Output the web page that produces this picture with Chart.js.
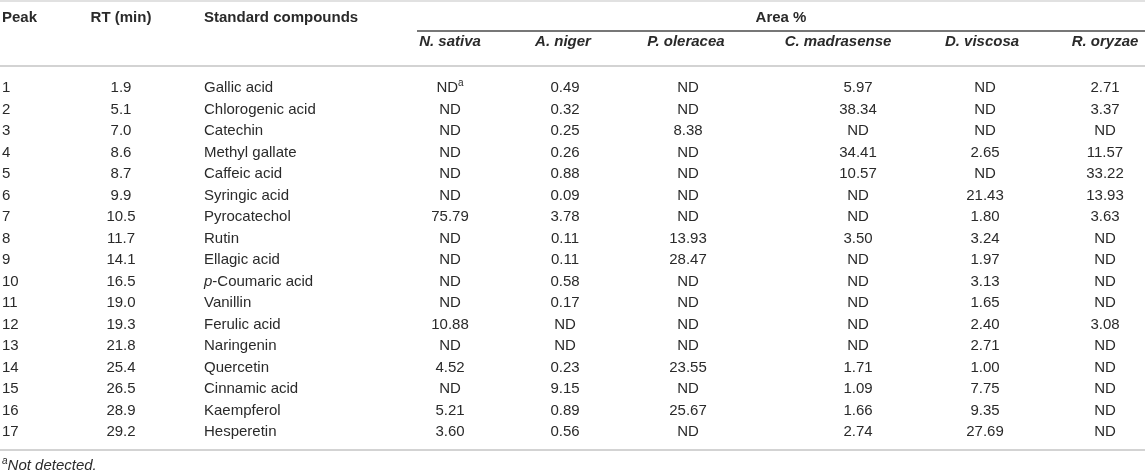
<!DOCTYPE html>
<html>
<head>
<meta charset="utf-8">
<script src="https://cdn.jsdelivr.net/npm/chart.js@4"></script>
<style>
  html, body { margin: 0; padding: 0; background: #fff; }
  #wrap { width: 1145px; height: 474px; }
</style>
</head>
<body>
<div id="wrap"><canvas id="table"></canvas></div>
<script>
// Table content
const peaks = ['1', '2', '3', '4', '5', '6', '7', '8', '9', '10', '11', '12', '13', '14', '15', '16', '17'];
const retentionTimes = [1.9, 5.1, 7.0, 8.6, 8.7, 9.9, 10.5, 11.7, 14.1, 16.5, 19.0, 19.3, 21.8, 25.4, 26.5, 28.9, 29.2];
const compounds = ['Gallic acid', 'Chlorogenic acid', 'Catechin', 'Methyl gallate', 'Caffeic acid', 'Syringic acid',
    'Pyrocatechol', 'Rutin', 'Ellagic acid', 'p-Coumaric acid', 'Vanillin', 'Ferulic acid', 'Naringenin',
    'Quercetin', 'Cinnamic acid', 'Kaempferol', 'Hesperetin'];
const species = ['N. sativa', 'A. niger', 'P. oleracea', 'C. madrasense', 'D. viscosa', 'R. oryzae'];

// Area % per species, null = not detected
const nSativa = [null, null, null, null, null, null, 75.79, null, null, null, null, 10.88, null, 4.52, null, 5.21, 3.60];
const aNiger = [0.49, 0.32, 0.25, 0.26, 0.88, 0.09, 3.78, 0.11, 0.11, 0.58, 0.17, null, null, 0.23, 9.15, 0.89, 0.56];
const pOleracea = [null, null, 8.38, null, null, null, null, 13.93, 28.47, null, null, null, null, 23.55, null, 25.67, null];
const cMadrasense = [5.97, 38.34, null, 34.41, 10.57, null, null, 3.50, null, null, null, null, null, 1.71, 1.09, 1.66, 2.74];
const dViscosa = [null, null, null, 2.65, null, 21.43, 1.80, 3.24, 1.97, 3.13, 1.65, 2.40, 2.71, 1.00, 7.75, 9.35, 27.69];
const rOryzae = [2.71, 3.37, null, 11.57, 33.22, 13.93, 3.63, null, null, null, null, 3.08, null, null, null, null, null];
const areaSeries = [nSativa, aNiger, pOleracea, cMadrasense, dViscosa, rOryzae];

const columnTitles = ['Peak', 'RT (min)', 'Standard compounds'];
const groupTitle = 'Area %';
const footnote = 'Not detected.';
const footnoteCells = [[0, 0]]; // [species index, row index] carrying the "a" mark

// Layout (page units)
const W = 1145, H = 474;
const FONT = "'Liberation Sans', Arial, Helvetica, sans-serif";
const TEXT = '#2a2a2a';
const peakX = 2, rtX = 121, compoundX = 204;
const valueX = [450, 565, 688, 858, 985, 1105];
const speciesX = [450, 563, 686, 838, 982, 1105];
const groupLeft = 417;
const headY = 18, speciesY = 42;
const firstRowY = 88, rowStep = 21.5;
const rules = { top: 1, group: 31, head: 66, bottom: 450 };
const footY = 466;

const rowY = i => firstRowY + i * rowStep;

function fmtArea(v) {
    return v === null ? 'ND' : v.toFixed(2);
}

function cellPoints(xPos) {
    return peaks.map((p, i) => ({ x: xPos, y: rowY(i) }));
}

// one scatter dataset per column; the points hold the cell anchors
const datasets = [
    { label: 'Peak', data: cellPoints(peakX), cellText: peaks, align: 'left' },
    { label: 'RT', data: cellPoints(rtX), cellText: retentionTimes.map(v => v.toFixed(1)), align: 'center' },
    { label: 'Compound', data: cellPoints(compoundX), cellText: compounds, align: 'left' }
];
areaSeries.forEach((series, s) => {
    datasets.push({
        label: species[s],
        data: cellPoints(valueX[s]),
        cellText: series.map(fmtArea),
        align: 'center',
        marks: footnoteCells.filter(c => c[0] === s).map(c => c[1])
    });
});
datasets.forEach(ds => { ds.pointRadius = 0; ds.showLine = false; });

function font(size, bold, italic) {
    return `${italic ? 'italic ' : ''}${bold ? 'bold ' : ''}${size}px ${FONT}`;
}

// draws text made of segments {t, italic, bold, sup}
function drawRich(ctx, segs, x, y, align) {
    const size = 15;
    let total = 0;
    segs.forEach(s => {
        ctx.font = font(s.sup ? 10 : size, s.bold, s.italic);
        s.w = ctx.measureText(s.t).width;
        total += s.w;
    });
    let cx = align === 'center' ? x - total / 2 : x;
    ctx.textAlign = 'left';
    ctx.textBaseline = 'middle';
    segs.forEach(s => {
        ctx.font = font(s.sup ? 10 : size, s.bold, s.italic);
        ctx.fillText(s.t, cx, s.sup ? y - 5 : y);
        cx += s.w;
    });
}

function segsFor(text) {
    if (text.startsWith('p-')) return [{ t: 'p', italic: true }, { t: text.slice(1) }];
    return [{ t: text }];
}

function hline(ctx, x1, x2, y, color, width) {
    ctx.strokeStyle = color;
    ctx.lineWidth = width;
    ctx.beginPath();
    ctx.moveTo(x1, y);
    ctx.lineTo(x2, y);
    ctx.stroke();
}

const tablePlugin = {
    id: 'tableText',
    afterDatasetsDraw(chart) {
        const ctx = chart.ctx;
        const xs = chart.scales.x, ys = chart.scales.y;
        const px = v => xs.getPixelForValue(v);
        const py = v => ys.getPixelForValue(v);
        ctx.save();

        // rules
        hline(ctx, px(0), px(W), py(rules.top), '#c4c4c4', 1.2);
        hline(ctx, px(groupLeft), px(W), py(rules.group), '#4a4a4a', 1.4);
        hline(ctx, px(0), px(W), py(rules.head), '#c4c4c4', 1.4);
        hline(ctx, px(0), px(W), py(rules.bottom), '#c4c4c4', 1.4);

        ctx.fillStyle = TEXT;
        // column headers
        drawRich(ctx, [{ t: columnTitles[0], bold: true }], px(peakX), py(headY), 'left');
        drawRich(ctx, [{ t: columnTitles[1], bold: true }], px(rtX), py(headY), 'center');
        drawRich(ctx, [{ t: columnTitles[2], bold: true }], px(compoundX), py(headY), 'left');
        drawRich(ctx, [{ t: groupTitle, bold: true }], (px(groupLeft) + px(W)) / 2, py(headY), 'center');
        species.forEach((sp, s) => {
            drawRich(ctx, [{ t: sp, bold: true, italic: true }], px(speciesX[s]), py(speciesY), 'center');
        });

        // body cells at the dataset point positions
        chart.data.datasets.forEach((ds, di) => {
            const meta = chart.getDatasetMeta(di);
            meta.data.forEach((pt, i) => {
                const segs = segsFor(ds.cellText[i]);
                if (ds.marks && ds.marks.includes(i)) segs.push({ t: 'a', sup: true });
                drawRich(ctx, segs, pt.x, pt.y, ds.align);
            });
        });

        // footnote
        drawRich(ctx, [{ t: 'a', sup: true, italic: true }, { t: footnote, italic: true }], px(peakX), py(footY), 'left');
        ctx.restore();
    }
};

new Chart(document.getElementById('table'), {
    type: 'scatter',
    data: { datasets: datasets },
    options: {
        responsive: true,
        maintainAspectRatio: false,
        animation: false,
        events: [],
        layout: { padding: 0 },
        plugins: { legend: { display: false }, tooltip: { enabled: false } },
        scales: {
            x: { type: 'linear', min: 0, max: W, display: false },
            y: { type: 'linear', min: 0, max: H, reverse: true, display: false }
        }
    },
    plugins: [tablePlugin]
});
</script>
</body>
</html>
